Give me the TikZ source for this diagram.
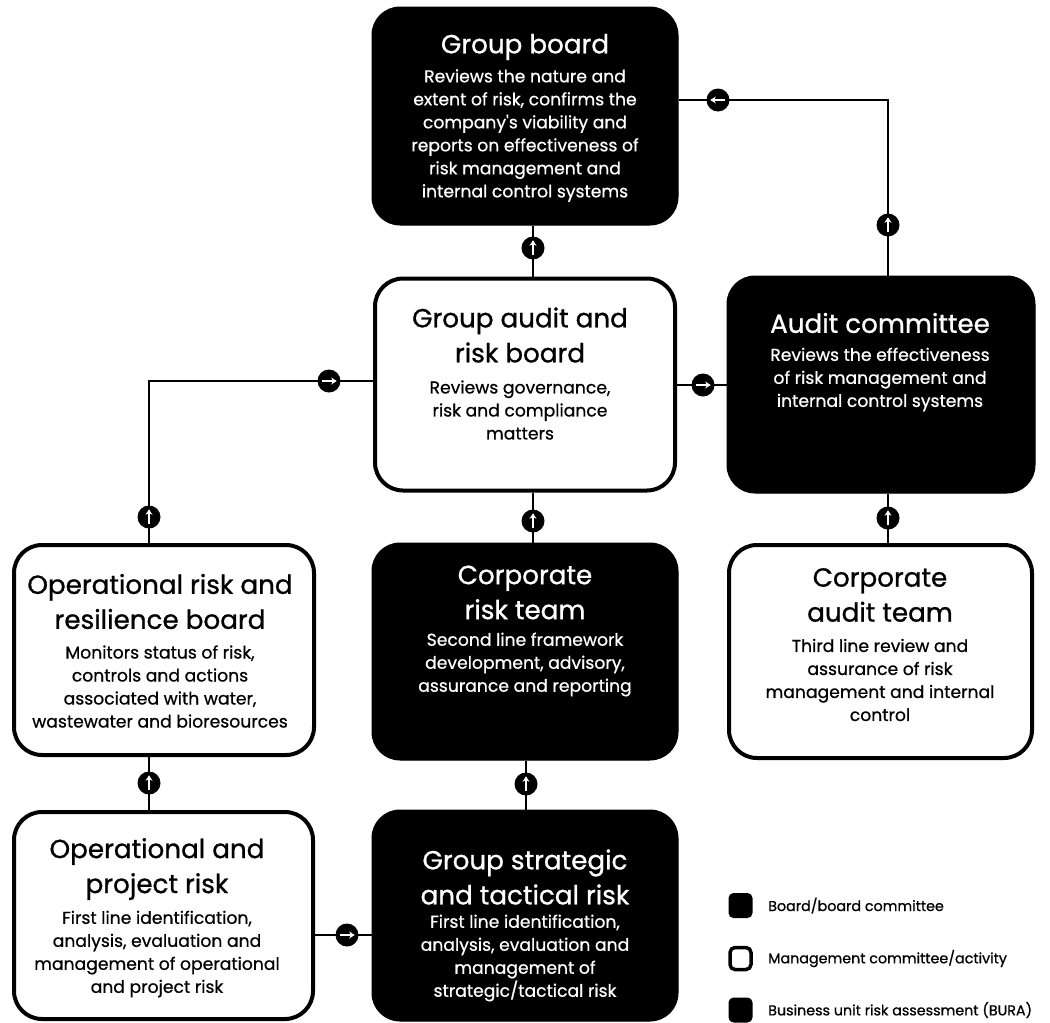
\documentclass[tikz,border=0pt]{standalone}
\usepackage{fontspec}
\setmainfont{Poppins}
\newfontfamily\medfont{Poppins}[FakeBold=0.9]
\newfontfamily\bodyfam{Poppins}[FakeBold=0.7]
\usetikzlibrary{arrows.meta}
\newcommand\ttlfont{\medfont\fontsize{26.2}{35}\selectfont}
\newcommand\bdyfont{\bodyfam\fontsize{17.2}{23}\selectfont}
\newcommand\lgdfont{\bodyfam\fontsize{14.3}{18}\selectfont}
\tikzset{
  darkbox/.style={rectangle, rounded corners=28, fill=black, draw=black, line width=1, inner sep=0},
  lightbox/.style={rectangle, rounded corners=28, fill=white, draw=black, line width=4, inner sep=0},
  ttl/.style={align=center, font=\ttlfont, inner sep=0},
  bdy/.style={align=center, font=\bdyfont, inner sep=0},
  onDark/.style={text=white},
  onLight/.style={text=black},
  conn/.style={line width=2, draw=black},
  hub/.style={circle, fill=black, minimum size=23, inner sep=0},
  harrow/.style={draw=white, line width=1.8, -{Stealth[length=5.5,width=7]}, shorten >=4, shorten <=4.5},
  lgdbox/.style={rectangle, rounded corners=5, minimum width=24, minimum height=25, inner sep=0},
  lgdtext/.style={anchor=west, font=\lgdfont, inner sep=0},
}
\begin{document}
\begin{tikzpicture}[x=1pt, y=-1pt]
\useasboundingbox[fill=white] (0,0) rectangle (1050,1023);

% ---------- boxes ----------
\node[darkbox, minimum width=306, minimum height=218] (gb) at (525,116) {};
\node[lightbox, minimum width=300, minimum height=212] (garb) at (525,384.5) {};
\node[darkbox, minimum width=308, minimum height=217] (ac) at (881,384.5) {};
\node[lightbox, minimum width=300, minimum height=210] (orrb) at (164,650) {};
\node[darkbox, minimum width=306, minimum height=217] (crt) at (525,651.5) {};
\node[lightbox, minimum width=303, minimum height=213] (cat) at (880.5,651.5) {};
\node[lightbox, minimum width=299, minimum height=207] (opr) at (163.5,915.5) {};
\node[darkbox, minimum width=306, minimum height=211] (gstr) at (525,915.5) {};

% ---------- texts ----------
\node[ttl, onDark] (gbT) at (525,47) {Group board};
\node[bdy, onDark] (gbB) at (525,135.5) {Reviews the nature and\\extent of risk, confirms the\\company's viability and\\reports on effectiveness of\\risk management and\\internal control systems};

\node[ttl, onLight] (garbT) at (520,335) {Group audit and\\risk board};
\node[bdy, onLight] (garbB) at (520,410) {Reviews governance,\\risk and compliance\\matters};

\node[ttl, onDark] (acT) at (880,323) {Audit committee};
\node[bdy, onDark] (acB) at (880,379.5) {Reviews the effectiveness\\of risk management and\\internal control systems};

\node[ttl, onLight] (orrbT) at (160,601.5) {Operational risk and\\resilience board};
\node[bdy, onLight] (orrbB) at (160,686.5) {Monitors status of risk,\\controls and actions\\associated with water,\\wastewater and bioresources};

\node[ttl, onDark] (crtT) at (525,592.5) {Corporate\\risk team};
\node[bdy, onDark] (crtB) at (525,664.5) {Second line framework\\development, advisory,\\assurance and reporting};

\node[ttl, onLight] (catT) at (880,595) {Corporate\\audit team};
\node[bdy, onLight] (catB) at (880,680) {Third line review and\\assurance of risk\\management and internal\\control};

\node[ttl, onLight] (oprT) at (157,869) {Operational and\\project risk};
\node[bdy, onLight] (oprB) at (157,954) {First line identification,\\analysis, evaluation and\\management of operational\\and project risk};

\node[ttl, onDark] (gstrT) at (525,877) {Group strategic\\and tactical risk};
\node[bdy, onDark] (gstrB) at (525,958) {First line identification,\\analysis, evaluation and\\management of\\strategic/tactical risk};

% ---------- connector hubs ----------
\coordinate (k1) at (533,248);
\coordinate (k2) at (888,225);
\coordinate (k3) at (718,100);
\coordinate (k4) at (149,517);
\coordinate (k5) at (329,381);
\coordinate (k6) at (703,385);
\coordinate (k7) at (533,521);
\coordinate (k8) at (888,518);
\coordinate (k9) at (149,783);
\coordinate (k10) at (526,784);
\coordinate (k11) at (347,935);

% ---------- connectors ----------
\draw[conn] (k1 |- garb.north) -- (k1 |- gb.south);
\draw[conn] (k2 |- ac.north) |- (k3) -- (k3 -| gb.east);
\draw[conn] (k4 |- orrb.north) |- (k5) -- (k5 -| garb.west);
\draw[conn] (k6 -| garb.east) -- (k6 -| ac.west);
\draw[conn] (k7 |- crt.north) -- (k7 |- garb.south);
\draw[conn] (k8 |- cat.north) -- (k8 |- ac.south);
\draw[conn] (k9 |- opr.north) -- (k9 |- orrb.south);
\draw[conn] (k10 |- gstr.north) -- (k10 |- crt.south);
\draw[conn] (k11 -| opr.east) -- (k11 -| gstr.west);

% ---------- hubs with arrows ----------
\foreach \k in {k1,k2,k4,k7,k8,k9,k10}{
  \node[hub] (h\k) at (\k) {};
  \draw[harrow] (h\k.south) -- (h\k.north);
}
\foreach \k in {k5,k6,k11}{
  \node[hub] (h\k) at (\k) {};
  \draw[harrow] (h\k.west) -- (h\k.east);
}
\node[hub] (hk3) at (k3) {};
\draw[harrow] (hk3.east) -- (hk3.west);

% ---------- legend ----------
\node[lgdbox, fill=black] (lg1) at (740.5,905.5) {};
\node[lgdbox, fill=white, draw=black, line width=3.5, minimum width=21, minimum height=22] (lg2) at (740.5,958.5) {};
\node[lgdbox, fill=black] (lg3) at (740.5,1010) {};
\node[lgdtext] (lg1T) at (768,905.5) {Board/board committee};
\node[lgdtext] (lg2T) at (768,958.5) {Management committee/activity};
\node[lgdtext] (lg3T) at (768,1010) {Business unit risk assessment (BURA)};
\end{tikzpicture}
\end{document}
